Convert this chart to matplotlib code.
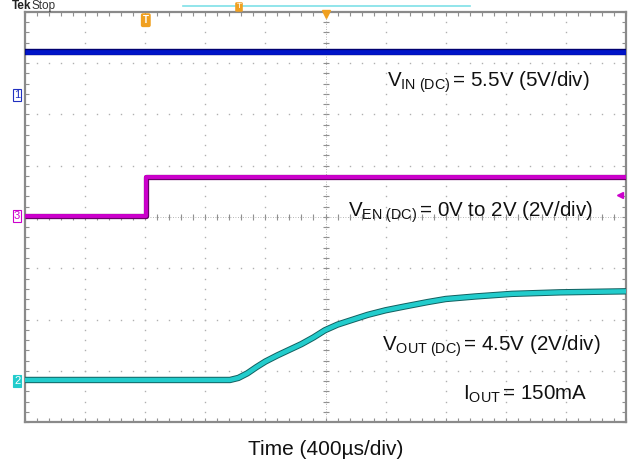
import matplotlib
matplotlib.use("Agg")
import matplotlib.pyplot as plt
import matplotlib.patheffects as pe
import numpy as np

plt.rcParams['font.family'] = ['Liberation Sans', 'DejaVu Sans']
plt.rcParams['mathtext.fontset'] = 'custom'
plt.rcParams['mathtext.rm'] = 'Liberation Sans'
plt.rcParams['mathtext.it'] = 'Liberation Sans'

# ---- data (screen divisions: time 0..10 div @ 400us/div, vertical 0..8 div) ----
vin_t = [0.0, 10.0]
vin_v = [7.22, 7.22]

ven_t = [0.0, 2.01, 2.01, 10.0]
ven_v = [4.02, 4.02, 4.79, 4.79]

vout_t = [0.0, 3.41, 3.55, 3.70, 3.85, 4.00, 4.20, 4.40, 4.60, 4.80, 4.99, 5.20, 5.41,
          5.70, 6.00, 6.30, 6.70, 7.00, 7.50, 8.10, 8.90, 10.0]
vout_v = [0.82, 0.82, 0.86, 0.95, 1.07, 1.18, 1.30, 1.41, 1.52, 1.65, 1.79, 1.90, 1.98,
          2.09, 2.18, 2.25, 2.34, 2.40, 2.45, 2.50, 2.53, 2.55]

labels = [
    r'V$_{\mathrm{IN\ (DC)}}\,$= 5.5V (5V/div)',
    r'V$_{\mathrm{EN\ (DC)}}\,$= 0V to 2V (2V/div)',
    r'V$_{\mathrm{OUT\ (DC)}}\,$= 4.5V (2V/div)',
    r'I$_{\mathrm{OUT}}\,$= 150mA',
]
label_pos = [(6.02, 6.54), (5.37, 4.0), (5.94, 1.40), (7.29, 0.43)]
xlabel = 'Time (400µs/div)'

W, H = 629, 461
fig = plt.figure(figsize=(W / 100, H / 100), dpi=100)
ax = fig.add_axes([25 / W, (H - 422) / H, 601 / W, 410 / H])
ax.set_xlim(0, 10)
ax.set_ylim(0, 8)

gridc = '#b0b0b0'
sub = np.arange(0, 10.001, 0.2)
subv = np.arange(0, 8.001, 0.2)
for gx in range(1, 10):
    ax.plot(np.full_like(subv, gx), subv, ls='none', marker='s', ms=1.0, color=gridc, mew=0, zorder=1)
for gy in range(1, 8):
    ax.plot(sub, np.full_like(sub, gy), ls='none', marker='s', ms=1.0, color=gridc, mew=0, zorder=1)
ax.plot(np.full_like(subv, 5), subv, ls='none', marker='_', ms=5, color='#909090', mew=0.8, zorder=1)
ax.plot(sub, np.full_like(sub, 4), ls='none', marker='|', ms=5, color='#909090', mew=0.8, zorder=1)
ax.axvline(5, color='#a0a0a0', lw=0.6, ls=(0, (1, 2)), zorder=1)
ax.axhline(4, color='#a0a0a0', lw=0.6, ls=(0, (1, 2)), zorder=1)

ax.set_xticks(range(0, 11))
ax.set_yticks(range(0, 9))
ax.set_xticks(sub, minor=True)
ax.set_yticks(subv, minor=True)
ax.tick_params(which='both', direction='in', length=3, width=0.8, color='#909090',
               top=True, right=True, labelbottom=False, labelleft=False)
for s in ax.spines.values():
    s.set_color('#8a8a8a')
    s.set_linewidth(1.6)

# traces
ax.plot(vin_t, vin_v, color='#0014c8', lw=3.4, solid_capstyle='butt', zorder=5,
        path_effects=[pe.Stroke(linewidth=4.6, foreground='#000070'), pe.Normal()])
ax.plot(ven_t, ven_v, color='#cc00cc', lw=2.8, solid_capstyle='butt', zorder=5,
        path_effects=[pe.Stroke(linewidth=3.8, foreground='#6a006a'), pe.Normal()])
ax.plot([ven_t[1], ven_t[2]], [ven_v[1], ven_v[2]], color='#cc00cc', lw=0.8, zorder=6)
ax.plot(vout_t, vout_v, color='#22cccc', lw=3.2, solid_capstyle='butt', solid_joinstyle='round', zorder=5,
        path_effects=[pe.Stroke(linewidth=4.6, foreground='#126060'), pe.Normal()])

for txt, (x, y) in zip(labels, label_pos):
    ax.text(x, y, txt, fontsize=14.8, ha='left', va='baseline', color='#111111', zorder=7)
fig.text(326 / W, (H - 455) / H, xlabel, fontsize=15, ha='center', va='baseline', color='#111111')

# scope markers
fig.text(12 / W, (H - 9) / H, 'Tek', fontsize=8.5, fontweight='bold', ha='left', va='baseline', color='#222222')
fig.text(31 / W, (H - 9) / H, 'Stop', fontsize=8.5, ha='left', va='baseline', color='#333333')
fig.add_artist(plt.Line2D([183 / W, 470 / W], [(H - 6) / H, (H - 6) / H], color='#7fe0e8', lw=1.2))
fig.text(239 / W, (H - 7) / H, 'T', fontsize=6, ha='center', va='center', color='white',
         bbox=dict(boxstyle='round,pad=0.15', fc='#f0a020', ec='none'))
ax.text(2.01, 7.84, 'T', fontsize=7, ha='center', va='center', color='white', fontweight='bold',
        bbox=dict(boxstyle='round,pad=0.2', fc='#f0a020', ec='none'), zorder=8)
ax.plot([5], [7.97], marker='v', ms=6, color='#f0a020', clip_on=False, zorder=8)
ax.plot([9.9], [4.43], marker='<', ms=4, color='#cc00cc', clip_on=False, zorder=8)

ax.text(-0.13, 6.38, '1', fontsize=8, ha='center', va='center', color='#2030c0',
        bbox=dict(boxstyle='square,pad=0.1', fc='white', ec='#2030c0', lw=0.8), clip_on=False)
ax.text(-0.13, 4.02, '3', fontsize=8, ha='center', va='center', color='#cc00cc',
        bbox=dict(boxstyle='square,pad=0.1', fc='white', ec='#cc00cc', lw=0.8), clip_on=False)
ax.text(-0.13, 0.80, '2', fontsize=8, ha='center', va='center', color='white',
        bbox=dict(boxstyle='square,pad=0.1', fc='#22cccc', ec='#22cccc', lw=0.8), clip_on=False)

fig.savefig('out.png', dpi=100)
